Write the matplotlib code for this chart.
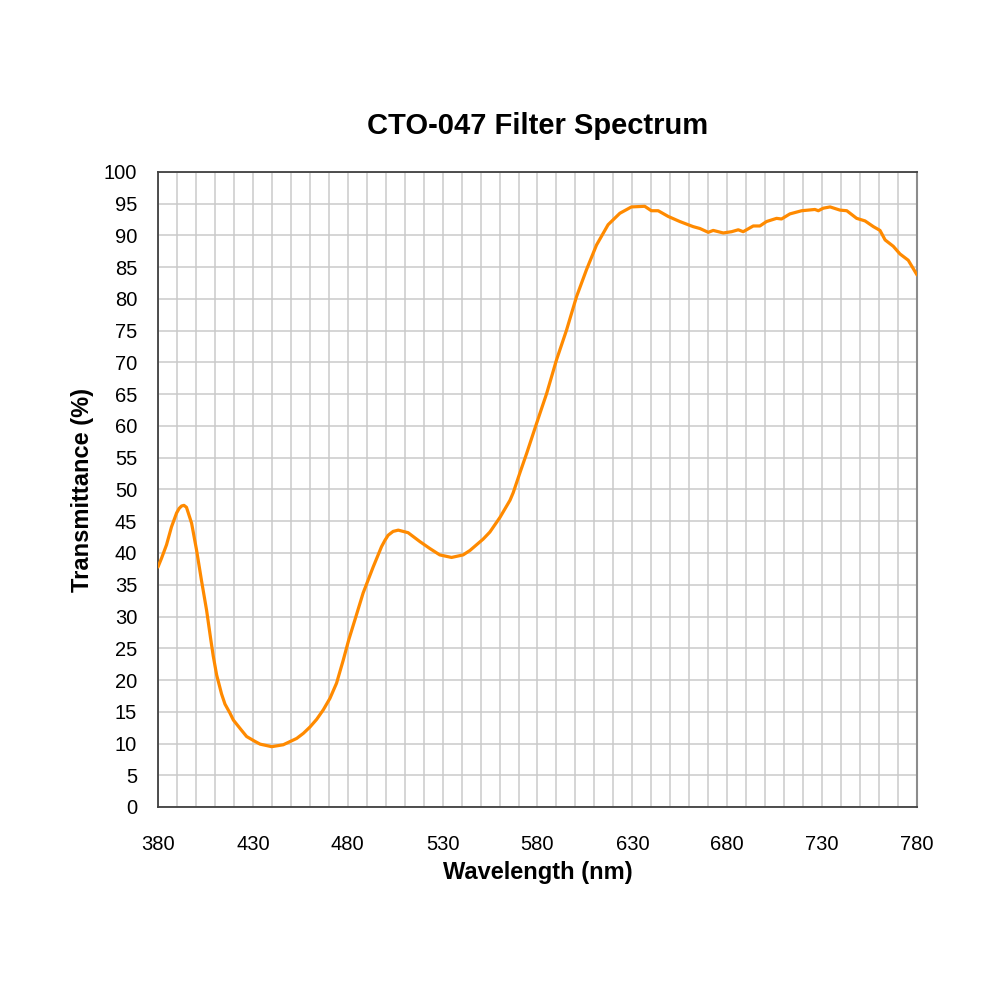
from matplotlib import pyplot as plt
import numpy as np

# wavelength (nm) and transmittance (%)
wavelength = [380, 381.9, 384.5, 387.1, 389.8, 391.1, 392.4, 393.7, 395.0, 397.7,
              400.3, 402.9, 405.6, 407.7, 409.1, 410.9, 413.5, 415.3, 417.9, 419.7,
              423.7, 426.7, 430.7, 433.8, 439.9, 446, 453.1, 456.6, 460.1, 463.6,
              467.1, 470.6, 474.1, 477.6, 480.5, 483.7, 488.1, 493.4, 497.8, 499.6,
              501.3, 503.9, 506.6, 511.8, 518.0, 523.3, 528.5, 534.7, 540.8, 544.4,
              547.9, 551.4, 554.9, 560.2, 565.5, 567.2, 570.7, 574.3, 579.5, 584.8,
              590, 595.3, 600.6,
              605.8, 611.1, 617.2, 623.4, 629.5, 636.5, 640, 643.6, 648.9, 655,
              662, 665.6, 670, 672.6, 677.9, 682.3, 685.8, 688.4, 693.7, 697.2,
              700.7, 706, 708.6, 713, 719.2, 726.2, 728, 730.6, 734.2, 739.4,
              743, 748.2, 752.6, 757, 760.5, 763.2, 767.5, 771, 775.4, 780]
transmittance = [37.8, 39.2, 41.3, 44.1, 46.3, 47.0, 47.4, 47.5, 47.2, 44.7,
                 40.5, 35.7, 31.0, 26.6, 23.8, 20.8, 17.8, 16.2, 14.8, 13.7,
                 12.2, 11.1, 10.4, 9.9, 9.5, 9.8, 10.8, 11.6, 12.6, 13.8,
                 15.3, 17.1, 19.5, 23.1, 26.3, 29.4, 33.7, 37.8, 41.0, 42.0,
                 42.8, 43.4, 43.6, 43.2, 41.8, 40.7, 39.7, 39.3, 39.7, 40.4,
                 41.3, 42.2, 43.3, 45.6, 48.3, 49.5, 52.6, 55.7, 60.4, 65.1,
                 70.4, 75.1, 80.4,
                 84.6, 88.5, 91.7, 93.5, 94.5, 94.6, 93.9, 93.9, 93.0, 92.2,
                 91.4, 91.1, 90.5, 90.8, 90.4, 90.6, 90.9, 90.6, 91.5, 91.5,
                 92.2, 92.7, 92.6, 93.4, 93.9, 94.1, 93.9, 94.3, 94.5, 94.0,
                 93.9, 92.7, 92.3, 91.4, 90.8, 89.3, 88.3, 87.1, 86.1, 83.8]

x_ticks = np.arange(380, 781, 50)
y_ticks = np.arange(0, 101, 5)

plt.rcParams['font.family'] = ['Liberation Sans', 'DejaVu Sans']

fig = plt.figure(figsize=(10, 10), dpi=100)
ax = fig.add_axes([0.158, 0.193, 0.759, 0.635])

# grid every 10 nm / 5 %
ax.set_xticks(np.arange(380, 781, 10), minor=True)
ax.grid(which='both', color='#cacaca', linewidth=1.1)
ax.set_axisbelow(True)

ax.plot(wavelength, transmittance, color='#ff8a00', linewidth=2.3, zorder=3,
        solid_joinstyle='round', solid_capstyle='round')

ax.set_xlim(380, 780)
ax.set_ylim(0, 100)
ax.set_xticks(x_ticks)
ax.set_yticks(y_ticks)
ax.tick_params(which='both', length=0, labelsize=14.5)
ax.tick_params(axis='x', pad=20)
ax.tick_params(axis='y', pad=15)

for side in ['left', 'bottom', 'top']:
    ax.spines[side].set_color('#404040')
    ax.spines[side].set_linewidth(1.3)
ax.spines['right'].set_color('#8c8c8c')
ax.spines['right'].set_linewidth(1.5)

ax.set_title('CTO-047 Filter Spectrum', fontsize=21, fontweight='bold', pad=27)
ax.set_xlabel('Wavelength (nm)', fontsize=17, fontweight='bold', labelpad=5)
ax.set_ylabel('Transmittance (%)', fontsize=17, fontweight='bold', labelpad=7)

fig.savefig('out.png', dpi=100, facecolor='white')
